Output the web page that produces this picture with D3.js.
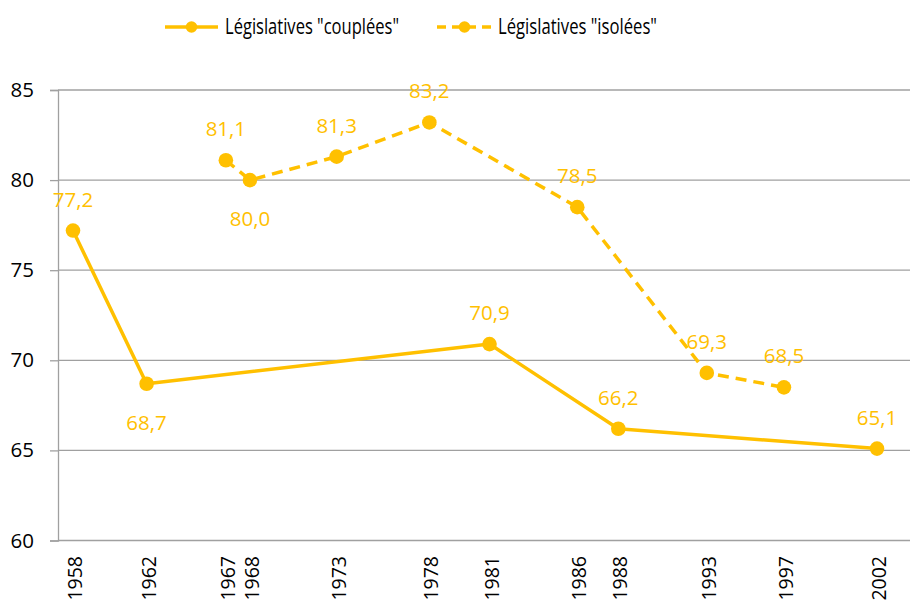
<!DOCTYPE html>
<html><head><meta charset="utf-8">
<script src="https://cdn.jsdelivr.net/npm/d3@7"></script>
<style>body{margin:0;background:#fff}svg{display:block}text{font-family:"Open Sans",sans-serif}</style>
</head><body>
<svg id="c" width="912" height="603"></svg>
<script>
// Data
const couplesDates = ["1958-11-23","1962-11-18","1981-06-14","1988-06-05","2002-06-09"];
const couplesValues = [77.2, 68.7, 70.9, 66.2, 65.1];
const isolesDates = ["1967-03-05","1968-06-23","1973-03-04","1978-03-12","1986-03-16","1993-03-21","1997-05-25"];
const isolesValues = [81.1, 80.0, 81.3, 83.2, 78.5, 69.3, 68.5];
const labelsBelow = ["1962-11-18","1968-06-23"];
const yTicks = [60, 65, 70, 75, 80, 85];
const seriesNames = ['Législatives "couplées"', 'Législatives "isolées"'];

(function () {
const color = "#FFC000";
const parse = d3.timeParse("%Y-%m-%d");
const svg = d3.select("#c");
const mLeft = 58, mRight = 910, mTop = 90, mBottom = 540.5;

const allDates = couplesDates.concat(isolesDates).map(parse).sort((a,b)=>a-b);
const x = d3.scaleTime().domain([parse(couplesDates[0]), parse(couplesDates[couplesDates.length-1])]).range([73, 877]);
const y = d3.scaleLinear().domain([60, 85]).range([mBottom, mTop]);

// gridlines + y axis
svg.append("g").selectAll("line").data(yTicks).join("line")
  .attr("x1", mLeft).attr("x2", mRight).attr("y1", d => y(d)).attr("y2", d => y(d))
  .attr("stroke", "#a0a0a0").attr("stroke-width", 1.3);
const yAxis = d3.axisLeft(y).tickValues(yTicks).tickSize(8).tickPadding(16);
const gy = svg.append("g").attr("transform", `translate(${mLeft},0)`).call(yAxis);
gy.select(".domain").attr("stroke", "#a0a0a0").attr("stroke-width", 1.3);
gy.selectAll(".tick line").attr("stroke", "#a0a0a0").attr("stroke-width", 1.3);
gy.selectAll(".tick text").attr("font-size", 20.5).attr("fill", "#000").attr("font-family", "Open Sans");

// x axis
const xAxis = d3.axisBottom(x).tickValues(allDates).tickFormat(d3.timeFormat("%Y")).tickSize(0);
const gx = svg.append("g").attr("transform", `translate(0,${mBottom})`).call(xAxis);
gx.select(".domain").remove();
gx.selectAll(".tick text").attr("font-size", 19.5).attr("fill", "#000").attr("font-family", "Open Sans")
  .attr("transform", "rotate(-90)").attr("text-anchor", "end")
  .attr("x", -15.5).attr("y", 1.5).attr("dy", "0.36em");

function series(dates, values) { return dates.map((d, i) => ({key: d, date: parse(d), v: values[i]})); }
const s1 = series(couplesDates, couplesValues);
const s2 = series(isolesDates, isolesValues);
const line = d3.line().x(d => x(d.date)).y(d => y(d.v));

svg.append("path").datum(s1).attr("d", line).attr("fill", "none").attr("stroke", color).attr("stroke-width", 3.5).attr("stroke-linejoin", "round");
svg.append("path").datum(s2).attr("d", line).attr("fill", "none").attr("stroke", color).attr("stroke-width", 3.5).attr("stroke-dasharray", "11,7");

const fmt = v => v.toFixed(1).replace(".", ",");
[s1, s2].forEach(s => {
  svg.append("g").selectAll("circle").data(s).join("circle")
    .attr("cx", d => x(d.date)).attr("cy", d => y(d.v)).attr("r", 7.3).attr("fill", color);
  svg.append("g").selectAll("text").data(s).join("text")
    .attr("x", d => x(d.date)).attr("y", d => y(d.v) + (labelsBelow.includes(d.key) ? 46 : -24))
    .attr("text-anchor", "middle").attr("font-size", 20.5).attr("fill", color).text(d => fmt(d.v));
});

// legend
const lg = svg.append("g");
const items = [{x0: 165, x1: 218, dash: null, tx: 225, w: 174}, {x0: 437, x1: 492, dash: "9,6", tx: 498, w: 159}];
items.forEach((it, i) => {
  lg.append("line").attr("x1", it.x0).attr("x2", it.x1).attr("y1", 27).attr("y2", 27)
    .attr("stroke", color).attr("stroke-width", 3.5).attr("stroke-dasharray", it.dash);
  lg.append("circle").attr("cx", (it.x0 + it.x1) / 2).attr("cy", 27).attr("r", 5.8).attr("fill", color);
  lg.append("text").attr("x", it.tx).attr("y", 34.3).attr("font-size", 21.5).attr("fill", "#000")
    .attr("textLength", it.w).attr("lengthAdjust", "spacingAndGlyphs").text(seriesNames[i]);
});
})();
</script>
</body></html>
